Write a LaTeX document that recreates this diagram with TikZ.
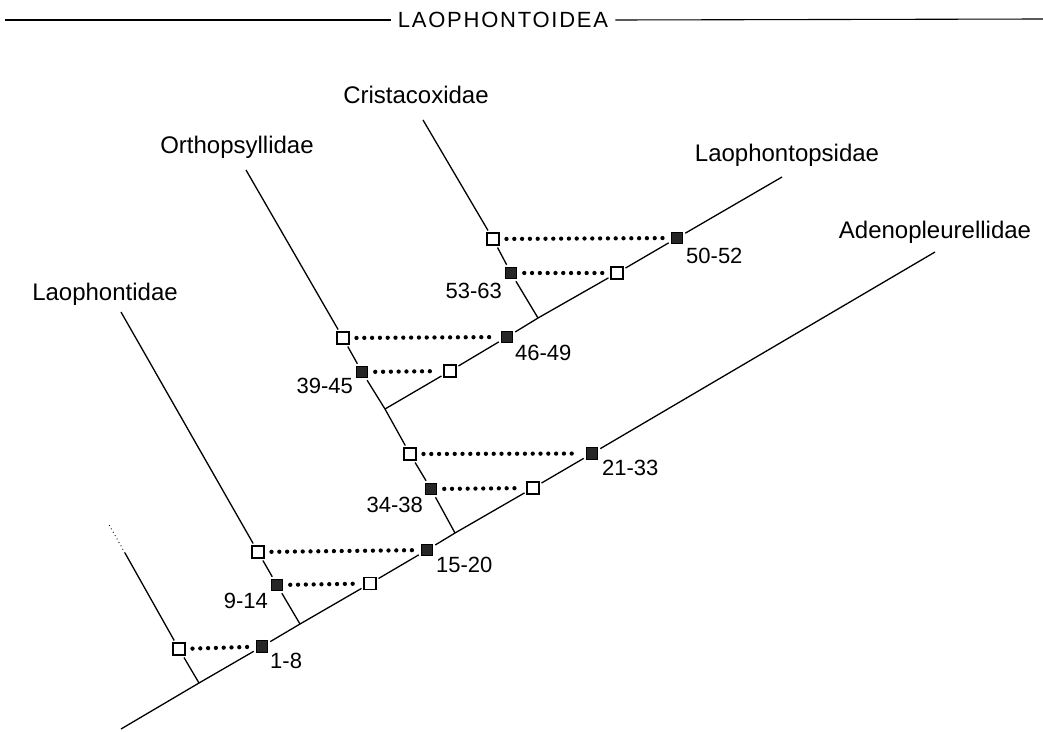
\documentclass[tikz,border=0pt]{standalone}
\usepackage{fontspec}
\setmainfont{Liberation Sans}
\newfontfamily\titlefont[LetterSpace=8]{Liberation Sans}
\begin{document}
\begin{tikzpicture}[x=1pt,y=-1pt,
  br/.style={line width=1.3pt},
  opensq/.style={draw,line width=1.2pt,fill=white,minimum size=12pt,inner sep=0pt,outer sep=2.5pt},
  fillsq/.style={draw,line width=1pt,fill=black!85,minimum size=11.5pt,inner sep=0pt,outer sep=2.5pt},
  dots/.style={line width=4.3pt,line cap=round,dash pattern=on 0pt off 7.8pt,shorten >=5pt,shorten <=5pt},
  fam/.style={font=\fontsize{24}{28}\selectfont,anchor=base,inner sep=0pt},
  num/.style={font=\fontsize{22}{26}\selectfont,inner sep=0pt}]
\useasboundingbox (0,0) rectangle (1043,731);
% title
\node[font=\titlefont\fontsize{22}{26}\selectfont,inner sep=0pt] (T) at (503,20) {LAOPHONTOIDEA};
\coordinate (TL) at (5,20);
\coordinate (TR) at (1043,19);
\draw[line width=1.1pt] (TL) -- ([xshift=-7pt]T.west);
\draw[line width=1.1pt] ([xshift=7pt]T.east) -- (TR);
% main line
\coordinate (M0) at (121,729);
\coordinate (J1) at (199,683);
\node[fillsq] (S1f) at (262,646.5) {};
\coordinate (J2) at (300,624);
\node[opensq] (S2o) at (370,583.5) {};
\node[fillsq] (S3f) at (427,550) {};
\coordinate (J3) at (455,533);
\node[opensq] (S4o) at (533,488) {};
\node[fillsq] (S5f) at (592,453.5) {};
\coordinate (Mend) at (935,252);
% branch 1
\node[opensq] (S1o) at (179,649) {};
\coordinate (B1a) at (125,553);
\coordinate (B1b) at (108,523);
% branch 2
\node[fillsq] (S2f) at (277,585) {};
\node[opensq] (S3o) at (258,552) {};
\coordinate (B2) at (121,312);
% branch 3
\node[fillsq] (S4f) at (431,489) {};
\node[opensq] (S5o) at (410,454) {};
\coordinate (J4) at (385,409);
\node[fillsq] (S6f) at (362,372) {};
\node[opensq] (S7o) at (343,338) {};
\coordinate (B3) at (246,170);
% branch 4
\node[opensq] (S6o) at (450,371) {};
\node[fillsq] (S7f) at (507,337) {};
\coordinate (J5) at (538,318);
\node[opensq] (S8o) at (617,273) {};
\node[fillsq] (S9f) at (677,238) {};
\coordinate (B4) at (782,177);
% branch 5
\node[fillsq] (S8f) at (511,273) {};
\node[opensq] (S9o) at (493,239) {};
\coordinate (B5) at (423,120);
% lines
\draw[br] (M0) -- (J1) -- (S1f) -- (J2) -- (S2o) -- (S3f) -- (J3) -- (S4o) -- (S5f) -- (Mend);
\draw[br] (J1) -- (S1o) -- (B1a);
\draw[line width=0.9pt,dash pattern=on 0.9pt off 3pt] (B1a) -- (B1b);
\draw[br] (J2) -- (S2f) -- (S3o) -- (B2);
\draw[br] (J3) -- (S4f) -- (S5o) -- (J4) -- (S6f) -- (S7o) -- (B3);
\draw[br] (J4) -- (S6o) -- (S7f) -- (J5) -- (S8o) -- (S9f) -- (B4);
\draw[br] (J5) -- (S8f) -- (S9o) -- (B5);
% dotted links
\draw[dots] (S1o) -- (S1f);
\draw[dots] (S2f) -- (S2o);
\draw[dots] (S3o) -- (S3f);
\draw[dots] (S4f) -- (S4o);
\draw[dots] (S5o) -- (S5f);
\draw[dots] (S6f) -- (S6o);
\draw[dots] (S7o) -- (S7f);
\draw[dots] (S8f) -- (S8o);
\draw[dots] (S9o) -- (S9f);
% family labels
\node[fam] (Lh) at (105,300) {Laophontidae};
\node[fam] (Or) at (237,153) {Orthopsyllidae};
\node[fam] (Cr) at (416,103) {Cristacoxidae};
\node[fam] (Lp) at (787,161) {Laophontopsidae};
\node[fam] (Ad) at (935,238) {Adenopleurellidae};
% character numbers
\node[num,anchor=base west] (n1) at (270,668) {1-8};
\node[num,anchor=base east] (n2) at (268,608) {9-14};
\node[num,anchor=base west] (n3) at (436,572) {15-20};
\node[num,anchor=base east] (n4) at (423,512) {34-38};
\node[num,anchor=base west] (n5) at (602,475) {21-33};
\node[num,anchor=base east] (n6) at (353,393) {39-45};
\node[num,anchor=base west] (n7) at (515,360) {46-49};
\node[num,anchor=base east] (n8) at (502,298) {53-63};
\node[num,anchor=base west] (n9) at (686,263) {50-52};
\end{tikzpicture}
\end{document}
